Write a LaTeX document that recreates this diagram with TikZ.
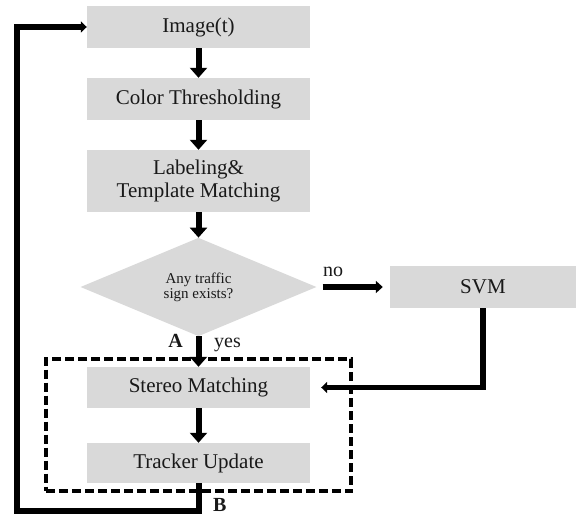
\documentclass[tikz,border=0pt]{standalone}
\usepackage{fontspec}
\setmainfont{Liberation Serif}
\usepackage{tikz}
\usetikzlibrary{arrows.meta,shapes.geometric,fit}
\definecolor{boxgrey}{RGB}{217,217,217}
\definecolor{inkgrey}{RGB}{25,25,25}
\newcommand{\flowstep}[2]{\draw[flowarrow] (#1) -- (#2);}
\tikzset{
  stepbox/.style={fill=boxgrey,text=inkgrey,minimum width=223pt,minimum height=42pt,inner sep=0pt,align=center,font=\fontsize{21}{23}\selectfont},
  testbox/.style={diamond,fill=boxgrey,text=inkgrey,minimum width=236pt,minimum height=90pt,inner sep=0pt,align=center,font=\fontsize{15}{15}\selectfont},
  flowarrow/.style={line width=6pt,-{Triangle[length=10pt,width=17pt]}},
  sidearrow/.style={line width=5.5pt,-{Triangle[length=7pt,width=12pt]}},
  tag/.style={inner sep=0pt,anchor=base west,text=inkgrey,font=\fontsize{20}{22}\selectfont},
  groupframe/.style={draw,dash pattern=on 9pt off 4pt,line width=3.5pt,inner xsep=41pt,inner ysep=8pt}
}

\begin{document}
\begin{tikzpicture}[x=1pt,y=-1pt]
\useasboundingbox (0,0) rectangle (576,516);
% main column
\node[stepbox] (image) at (198.5,27) {Image(t)};
\node[stepbox] (thresh) at (198.5,99) {Color Thresholding};
\node[stepbox,minimum height=62pt] (label) at (198.5,181) {Labeling\&\\Template Matching};
\node[testbox] (sign) at (198.5,287) {Any traffic\\sign exists?};
\node[stepbox,minimum width=186pt] (svm) at (483,287) {SVM};
\node[stepbox,minimum height=41pt] (stereo) at (198.5,387.5) {Stereo Matching};
\node[stepbox,minimum height=40pt] (track) at (198.5,463) {Tracker Update};
\node[groupframe,fit=(stereo)(track)] (group) {};
% labels
\node[tag] (lblno) at (323,276) {no};
\node[tag,anchor=base east,font=\bfseries\fontsize{20}{22}\selectfont] (lblA) at (183,347) {A};
\node[tag] (lblyes) at (214,347) {yes};
\node[tag,font=\bfseries\fontsize{20}{22}\selectfont] (lblB) at (213,511) {B};
% arrows
\flowstep{image}{thresh}
\flowstep{thresh}{label}
\flowstep{label}{sign}
\flowstep{sign}{stereo}
\flowstep{stereo}{track}
\draw[sidearrow,shorten <=6pt,shorten >=7pt] (sign) -- (svm);
\draw[sidearrow,-{Triangle[length=6pt,width=11pt]},shorten >=11pt] (svm) |- (stereo);
\coordinate (loopfoot) at (17,511);
\draw[sidearrow,line width=6pt,-{Triangle[length=6pt,width=11pt]}] (track) |- (loopfoot) |- (image);
\end{tikzpicture}
\end{document}
